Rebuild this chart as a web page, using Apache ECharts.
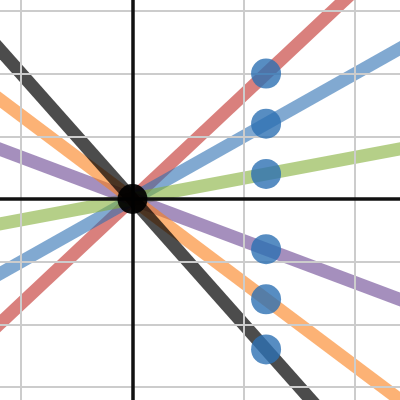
<!DOCTYPE html>
<html>
<head>
<meta charset="utf-8">
<script src="https://cdn.jsdelivr.net/npm/echarts@6/dist/echarts.min.js"></script>
<style>html,body{margin:0;padding:0;background:#fff}#c{width:400px;height:400px}</style>
</head>
<body>
<div id="c"></div>
<script>
// Grid line positions (axis units)
const gridX = [-1, 1, 2];
const gridY = [-3, -2, -1, 1, 2, 3];
// Lines through the origin: explicit endpoints [x, y]
const redLine = [[-1.5, -2.5], [2.5, 4.1667]];
const blueLine = [[-1.5, -1.5], [2.5, 2.5]];
const greenLine = [[-1.5, -0.5], [2.5, 0.8333]];
const purpleLine = [[-1.5, 1.0], [2.5, -1.6667]];
const orangeLine = [[-1.5, 2.0], [2.5, -3.3333]];
const blackLine = [[-1.5, 3.0], [2.5, -5.0]];
// Marked points
const pointX = [1.2, 1.2, 1.2, 1.2, 1.2, 1.2];
const pointY = [2.0, 1.2, 0.4, -0.8, -1.6, -2.4];
const origin = [[0, 0]];

const chart = echarts.init(document.getElementById('c'), null, {renderer: 'canvas'});
function lineSeries(name, data, color, op) {
  return {
    name, type: 'line', data, symbol: 'none', silent: true, animation: false,
    lineStyle: {color, width: 13, opacity: op, cap: 'butt'}, z: 3
  };
}
const option = {
  animation: false,
  grid: {left: 0, right: 0, top: 0, bottom: 0},
  xAxis: {type: 'value', min: -1.19, max: 2.403, show: false},
  yAxis: {type: 'value', min: -3.206, max: 3.174, show: false},
  series: [
    {
      type: 'line', data: [], silent: true, z: 1,
      markLine: {
        silent: true, symbol: 'none', animation: false,
        label: {show: false},
        lineStyle: {color: '#cccccc', width: 2, type: 'solid'},
        data: gridX.map(v => ({xAxis: v})).concat(gridY.map(v => ({yAxis: v})))
      }
    },
    {
      type: 'line', data: [], silent: true, z: 2,
      markLine: {
        silent: true, symbol: 'none', animation: false,
        label: {show: false},
        lineStyle: {color: '#111111', width: 3.5, type: 'solid'},
        data: [{xAxis: 0}, {yAxis: 0}]
      }
    },
    lineSeries('red', redLine, '#c74440', 0.68),
    lineSeries('blue', blueLine, '#2d70b3', 0.6),
    lineSeries('green', greenLine, '#84af39', 0.6),
    lineSeries('purple', purpleLine, '#694491', 0.6),
    lineSeries('orange', orangeLine, '#fa7e19', 0.6),
    lineSeries('black', blackLine, '#000000', 0.7),
    {
      type: 'scatter', silent: true, z: 5,
      data: pointX.map((x, i) => [x, pointY[i]]),
      symbolSize: 30,
      itemStyle: {color: '#2d70b3', opacity: 0.8}
    },
    {
      type: 'scatter', silent: true, z: 6,
      data: origin, symbolSize: 30,
      itemStyle: {color: '#000000', opacity: 0.92}
    }
  ]
};
chart.setOption(option);
</script>
</body>
</html>
